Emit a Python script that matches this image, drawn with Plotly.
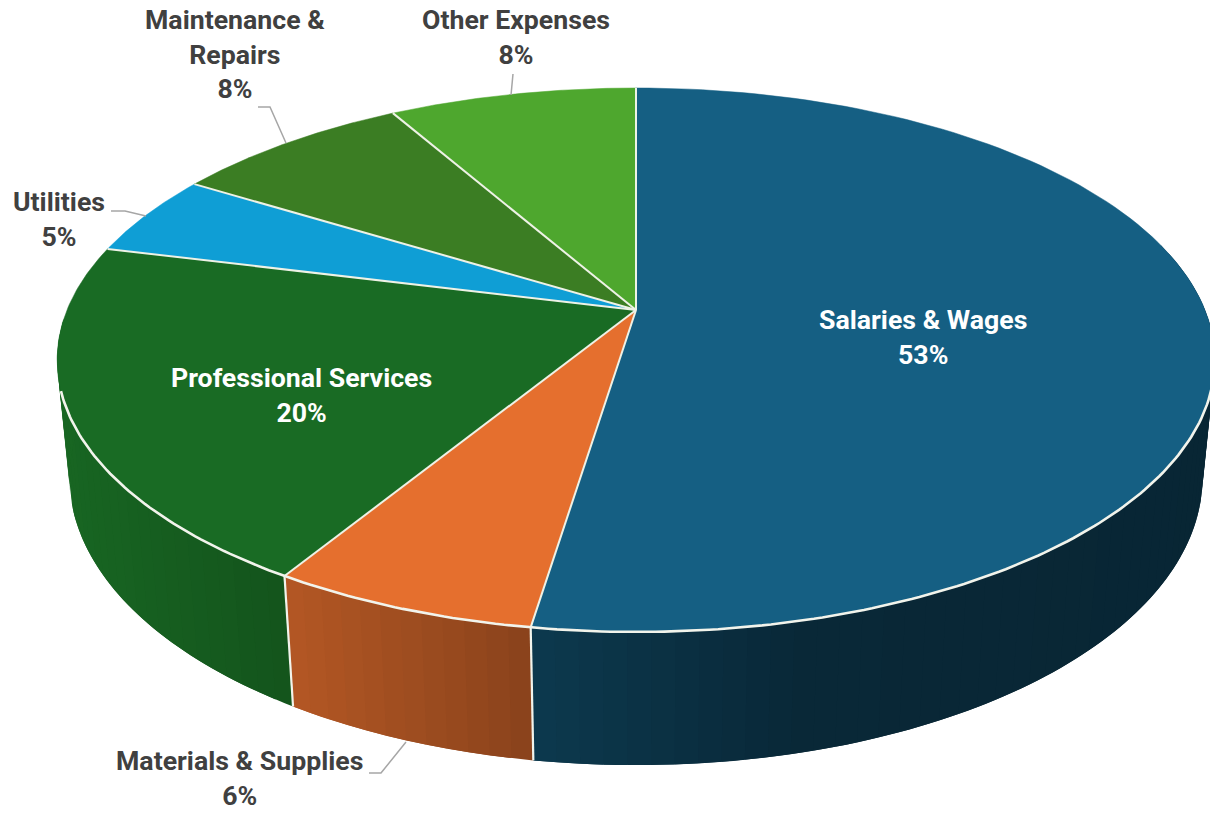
import numpy as np
import plotly.graph_objects as go

# Data
categories = ["Salaries &amp; Wages", "Materials &amp; Supplies", "Professional Services",
              "Utilities", "Maintenance &amp;<br>Repairs", "Other Expenses"]
values = [52.42, 6.3, 20.18, 4.9, 7.95, 8.25]
percent_labels = ["53%", "6%", "20%", "5%", "8%", "8%"]
top_colors = ["#155F83", "#E56F2E", "#196B24", "#0F9ED5", "#3B7D23", "#4EA72E"]
text_colors = ["#FFFFFF", "#404040", "#FFFFFF", "#404040", "#404040", "#404040"]
label_xy = [(923, 337), (239, 778), (301, 395), (59, 219), (235, 54), (516, 37)]
leaders = [None,
           [(369, 773), (381, 773), (406, 742)],
           None,
           [(111, 211), (125, 211), (146, 216)],
           [(258, 107), (270, 107), (286, 143)],
           [(511, 95), (513, 74)]]

# Projection of the tilted disc
CX, CY = 636.0, 310.0
B, A, C = 569.0, 262.8, 118.3
K, M = 0.1837, 0.021
RIM_START, RIM_END = 106.0, 253.0


def project(theta_deg, z=0.0):
    t = np.radians(np.asarray(theta_deg, dtype=float))
    u, v = np.sin(t), np.cos(t)
    w = 1 + K * v + M * z
    return CX + B * u / w, CY + (-A * v + C * z) / w


def shade(hex_color, x):
    f = np.interp(x, [60, 290, 530, 800, 1200], [0.95, 0.78, 0.60, 0.42, 0.40])
    rgb = [int(hex_color[i:i + 2], 16) for i in (1, 3, 5)]
    return "rgb(%d,%d,%d)" % tuple(round(c * f) for c in rgb)


edges = np.concatenate([[0.0], np.cumsum(values)]) / sum(values) * 360.0
fig = go.Figure()
NOHOVER = dict(hoverinfo="skip", showlegend=False, mode="lines")

# Side wall, drawn as overlapping narrow strips so that the shading changes along it
for i, col in enumerate(top_colors):
    a0, a1 = max(edges[i], 75.0), min(edges[i + 1], 268.0)
    if a1 <= a0:
        continue
    n = max(2, int(np.ceil((a1 - a0) / 2.0)))
    steps = np.linspace(a0, a1, n + 1)
    step = steps[1] - steps[0]
    for s0 in steps[:-1]:
        th = np.linspace(s0, min(s0 + 2 * step, a1), 5)
        xt, yt = project(th, 0.0)
        xb, yb = project(th[::-1], 1.0)
        c = shade(col, float(project(s0 + step / 2, 0.0)[0]))
        fig.add_trace(go.Scatter(x=list(xt) + list(xb), y=list(yt) + list(yb), fill="toself",
                                 fillcolor=c, line=dict(color=c, width=0), **NOHOVER))

# Top face of every slice
for i, col in enumerate(top_colors):
    th = np.linspace(edges[i], edges[i + 1], 120)
    x, y = project(th, 0.0)
    fig.add_trace(go.Scatter(x=[CX] + list(x) + [CX], y=[CY] + list(y) + [CY], fill="toself",
                             fillcolor=col, line=dict(color=col, width=0.5), **NOHOVER))

# Slice separators on the top face
for e in edges[:-1]:
    x, y = project(e, 0.0)
    fig.add_trace(go.Scatter(x=[CX, float(x)], y=[CY, float(y)],
                             line=dict(color="#EEF2E6", width=2), **NOHOVER))

# Light rim along the front edge and separators on the wall
th = np.linspace(RIM_START, RIM_END, 200)
x, y = project(th, 0.0)
fig.add_trace(go.Scatter(x=x, y=y, line=dict(color="#F2F4EC", width=2.6), **NOHOVER))
for e in edges[:-1]:
    if RIM_START < e < RIM_END:
        x0, y0 = project(e, 0.0)
        x1, y1 = project(e, 1.0)
        fig.add_trace(go.Scatter(x=[float(x0), float(x1)], y=[float(y0), float(y1)],
                                 line=dict(color="#F2F4EC", width=2.2), **NOHOVER))

# Leader lines
for pts in leaders:
    if pts:
        fig.add_trace(go.Scatter(x=[p[0] for p in pts], y=[p[1] for p in pts],
                                 line=dict(color="#A6A6A6", width=1.5), **NOHOVER))

# Labels
for name, pct, xy, tc in zip(categories, percent_labels, label_xy, text_colors):
    fig.add_annotation(x=xy[0], y=xy[1], xref="x", yref="y", showarrow=False,
                       text=f"<b>{name}<br>{pct}</b>", align="center",
                       font=dict(family="Roboto", size=26.7, color=tc))

fig.update_layout(width=1210, height=814, margin=dict(l=0, r=0, t=0, b=0),
                  paper_bgcolor="white", plot_bgcolor="white", showlegend=False,
                  xaxis=dict(range=[0, 1210], visible=False, fixedrange=True),
                  yaxis=dict(range=[814, 0], visible=False, fixedrange=True))
fig.write_html("out.html", config={"displayModeBar": False},
               post_script="document.body.style.margin='0';")
